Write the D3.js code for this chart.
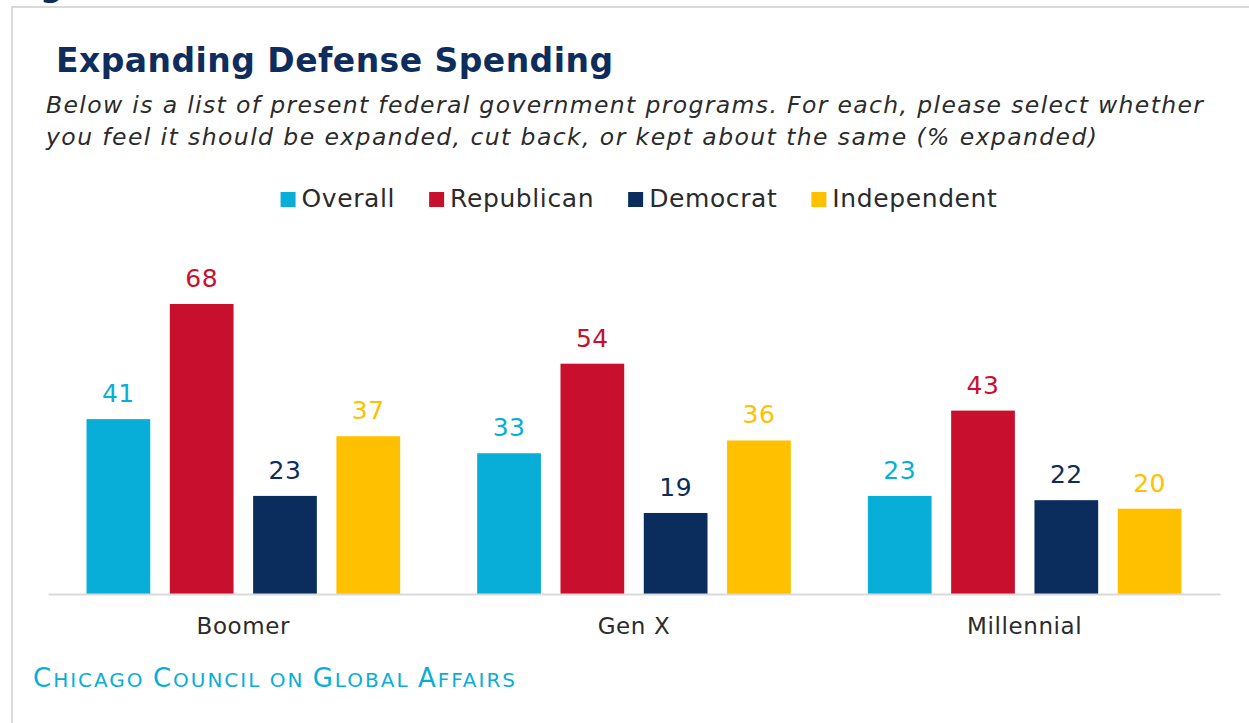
<!DOCTYPE html>
<html>
<head>
<meta charset="utf-8">
<script src="https://cdnjs.cloudflare.com/ajax/libs/d3/7.8.5/d3.min.js"></script>
<style>
  html, body { margin: 0; padding: 0; background: #ffffff; }
  svg { display: block; }
</style>
</head>
<body>
<svg id="chart" width="1249" height="723"></svg>
<script>
// Generations and the party groups shown for each
const categories = ["Boomer", "Gen X", "Millennial"];
const seriesNames = ["Overall", "Republican", "Democrat", "Independent"];

// % saying defense spending should be expanded
const overall = [41, 33, 23];
const republican = [68, 54, 43];
const democrat = [23, 19, 22];
const independent = [37, 36, 20];

const seriesColors = ["#08aed8", "#c8102e", "#0b2d5e", "#ffc000"];

const titleText = "Expanding Defense Spending";
const subtitleLines = [
  "Below is a list of present federal government programs. For each, please select whether",
  "you feel it should be expanded, cut back, or kept about the same (% expanded)"
];
const sourceText = "Chicago Council on Global Affairs";

const seriesValues = [overall, republican, democrat, independent];
const rows = categories.map((c, i) => ({
  category: c,
  values: seriesNames.map((s, j) => ({ series: s, value: seriesValues[j][i], color: seriesColors[j] }))
}));

const svg = d3.select("#chart");
const FONT = "'DejaVu Sans', sans-serif";

// Frame around the figure
svg.append("path")
  .attr("d", "M12,723 V7 H1249")
  .attr("fill", "none")
  .attr("stroke", "#dadada")
  .attr("stroke-width", 2);

// Tail of the figure caption that sits above the frame
svg.append("text")
  .attr("x", 40).attr("y", -4)
  .attr("font-family", FONT).attr("font-weight", "bold").attr("font-size", 32)
  .attr("fill", "#0f2d5c")
  .text("g");

// Title
svg.append("text")
  .attr("x", 56).attr("y", 72)
  .attr("font-family", FONT).attr("font-weight", "bold").attr("font-size", 33)
  .attr("fill", "#0f2d5c")
  .attr("textLength", 557).attr("lengthAdjust", "spacing")
  .text(titleText);

// Subtitle, spread to the width of the frame
const subtitleWidths = [1157, 1051];
svg.append("g").selectAll("text")
  .data(subtitleLines)
  .join("text")
  .attr("x", 46)
  .attr("y", (d, i) => 113 + i * 32)
  .attr("font-family", FONT).attr("font-style", "italic").attr("font-size", 23.5)
  .attr("fill", "#2b2b2b")
  .attr("textLength", (d, i) => subtitleWidths[i]).attr("lengthAdjust", "spacing")
  .text(d => d);

// Scales
const baseY = 594;
const x0 = d3.scaleBand().domain(categories).range([48, 1220]).padding(0);
const x1 = d3.scaleBand().domain(seriesNames).range([0, x0.bandwidth()])
  .paddingInner(0.235).paddingOuter(0.4625);
const y = d3.scaleLinear().domain([0, 80]).range([baseY, baseY - 80 * 4.265]);

// Legend
const legend = svg.append("g").attr("font-family", FONT).attr("font-size", 25)
  .attr("letter-spacing", 0.6);
let lx = 0;
seriesNames.forEach((s, i) => {
  const g = legend.append("g");
  g.append("rect").attr("x", 0).attr("y", -15).attr("width", 15).attr("height", 15)
    .attr("fill", seriesColors[i]);
  const t = g.append("text").attr("x", 21).attr("y", 0).attr("fill", "#2b2b2b").text(s);
  const w = 21 + t.node().getComputedTextLength();
  g.attr("transform", `translate(${lx},0)`);
  lx += w + 34;
});
const legendWidth = lx - 34;
legend.attr("transform", `translate(${639 - legendWidth / 2},207)`);

// Bars
const groups = svg.append("g").selectAll("g")
  .data(rows)
  .join("g")
  .attr("transform", d => `translate(${x0(d.category)},0)`);

groups.selectAll("rect")
  .data(d => d.values)
  .join("rect")
  .attr("x", d => x1(d.series))
  .attr("y", d => y(d.value))
  .attr("width", x1.bandwidth())
  .attr("height", d => y(0) - y(d.value))
  .attr("fill", d => d.color);

// Value labels
groups.selectAll("text")
  .data(d => d.values)
  .join("text")
  .attr("x", d => x1(d.series) + x1.bandwidth() / 2)
  .attr("y", d => y(d.value) - 17)
  .attr("text-anchor", "middle")
  .attr("font-family", FONT).attr("font-size", 25).attr("letter-spacing", 0.5)
  .attr("fill", d => d.color)
  .text(d => d.value);

// Category axis
const xAxis = svg.append("g")
  .attr("transform", `translate(0,${baseY})`)
  .call(d3.axisBottom(x0).tickSize(0).tickPadding(24));
xAxis.select(".domain").attr("stroke", "#d9d9d9").attr("stroke-width", 2);
xAxis.selectAll("text")
  .attr("font-family", FONT).attr("font-size", 23).attr("letter-spacing", 0.6)
  .attr("fill", "#2b2b2b");

// Source line in small capitals
const src = svg.append("text")
  .attr("x", 33).attr("y", 687)
  .attr("font-family", FONT).attr("fill", "#08aed8")
  .attr("textLength", 482).attr("lengthAdjust", "spacing");
sourceText.split(" ").forEach((word, i) => {
  if (i > 0) src.append("tspan").attr("font-size", 20).text(" ");
  const first = word[0];
  const isCap = first === first.toUpperCase();
  src.append("tspan").attr("font-size", isCap ? 26 : 20).text(first.toUpperCase());
  src.append("tspan").attr("font-size", 20).text(word.slice(1).toUpperCase());
});
</script>
</body>
</html>
